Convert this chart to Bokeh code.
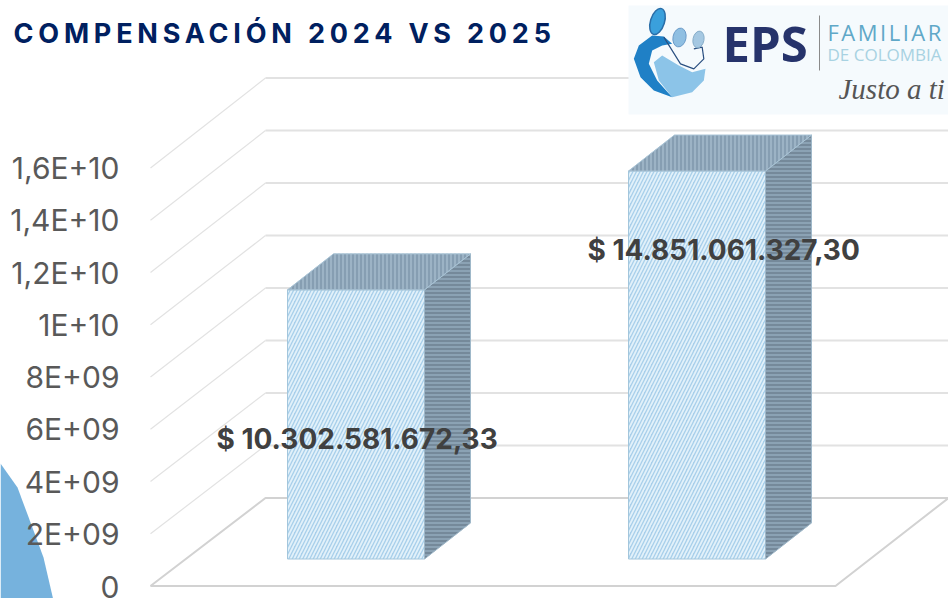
from bokeh.plotting import figure
from bokeh.embed import file_html
from bokeh.resources import INLINE
from bokeh.io import curdoc
from bokeh.models import FixedTicker, CustomJS
from bokeh.core.properties import value

# ---- data ----
categories = ["2024", "2025"]
series_values = [10302581672.33, 14851061327.30]
value_labels = ["$ 10.302.581.672,33", "$ 14.851.061.327,30"]
tick_values = [0, 2e9, 4e9, 6e9, 8e9, 1e10, 1.2e10, 1.4e10, 1.6e10]
tick_labels = ["0", "2E+09", "4E+09", "6E+09", "8E+09", "1E+10", "1,2E+10", "1,4E+10", "1,6E+10"]
title_text = "COMPENSACIÓN 2024 VS 2025"

# ---- scales: x in page pixels, y in value units ----
W, H = 948, 598
V_PER_PX = 2e9 / 52.25
ZERO_PY = 585.5
def vy(py):
    return (ZERO_PY - py) * V_PER_PX

p = figure(width=W, height=H, output_backend="svg", toolbar_location=None,
           x_range=(0, W), y_range=(vy(H), vy(0)),
           x_axis_type=None, min_border=0, outline_line_color=None)
p.xgrid.visible = False
p.ygrid.visible = False
p.background_fill_color = "white"
p.border_fill_color = "white"

# the axis would push the lowest label up from the page edge, so "0" is drawn as text below
ax = p.yaxis[0]
ax.ticker = FixedTicker(ticks=tick_values[1:])
ax.major_label_overrides = {t: s for t, s in zip(tick_values, tick_labels)}
ax.axis_line_color = None
ax.major_tick_line_color = None
ax.minor_tick_line_color = None
ax.major_tick_out = 0
ax.major_tick_in = 0
ax.minor_tick_out = 0
ax.minor_tick_in = 0
ax.major_label_text_font = "Inter"
ax.major_label_text_font_size = "30px"
ax.major_label_text_color = "#595959"
ax.major_label_standoff = -119

# ---- decorative blob, lower left ----
BLOB_X = [0, 0, 17, 33, 43, 53, 0]
BLOB_PY = [600, 463, 487, 530, 557, 600, 600]
p.patch(BLOB_X, [vy(q) for q in BLOB_PY], fill_color="#76b2dd", line_color=None)

# ---- 3D frame ----
WALL_LEFT, WALL_BACK, FLOOR_RIGHT, PAGE_RIGHT = 150, 265, 835, 960
WALL_DV = 88 * V_PER_PX
BACK_SCALE = 52.5 / 52.25
GRID = "#e2e2e2"
for t in tick_values[1:]:
    back = t * BACK_SCALE + WALL_DV
    p.line([WALL_LEFT, WALL_BACK], [t, back], line_color=GRID, line_width=1.2)
    p.line([WALL_BACK, PAGE_RIGHT], [back, back], line_color=GRID, line_width=2)
p.line([WALL_LEFT, WALL_BACK, PAGE_RIGHT], [0, WALL_DV, WALL_DV], line_color="#d2d2d2", line_width=2)
p.line([WALL_LEFT, FLOOR_RIGHT, 948], [0, 0, WALL_DV], line_color="#d2d2d2", line_width=2)

p.text([119], [vy(597.5)], text=[tick_labels[0]], text_font=value("Inter"), text_font_size="30px",
       text_color="#595959", text_align="right", text_baseline="bottom", text_line_height=1.0)

# ---- bars ----
BAR_LEFT = [287, 628]
BAR_W = 137
DEPTH_X = 46
DEPTH_V = 36 * V_PER_PX
BASE_V = 27 * V_PER_PX
for left, v in zip(BAR_LEFT, series_values):
    top = BASE_V + v
    r = left + BAR_W
    p.patch([left, r, r, left], [BASE_V, BASE_V, top, top], fill_color="#a8cfea",
            hatch_pattern="right_diagonal_line", hatch_color="#e2f1fa", hatch_scale=7, hatch_weight=1.8,
            line_color="#a3c6dc", line_width=1)
    p.patch([r, r + DEPTH_X, r + DEPTH_X, r], [BASE_V, BASE_V + DEPTH_V, top + DEPTH_V, top],
            fill_color="#75899a", hatch_pattern="horizontal_line", hatch_color="#93abbc",
            hatch_scale=4, hatch_weight=1.5, line_color="#9fb8c9", line_width=1)
    p.patch([left, r, r + DEPTH_X, left + DEPTH_X], [top, top, top + DEPTH_V, top + DEPTH_V],
            fill_color="#869eb2", hatch_pattern="vertical_line", hatch_color="#a3bacb",
            hatch_scale=4, hatch_weight=1.5, line_color="#a9c4d6", line_width=1)

# ---- value labels ----
LABEL_X = [216, 587]
LABEL_V = [vy(438), vy(249)]
p.text(LABEL_X, LABEL_V, text=value_labels, text_font=value("Inter"), text_font_style="bold",
       text_font_size="28px", text_color="#404040", text_align="left", text_baseline="middle")

# ---- title ----
p.text([13], [vy(33)], text=[title_text], text_font=value("Inter"), text_font_style="bold",
       text_font_size="27px", text_color="#002060", text_align="left", text_baseline="middle")

def lx(pts):
    return [620 + q[0] / 3 for q in pts]
def ly(pts):
    return [vy(q[1] / 3) for q in pts]

p.patch([628, 960, 960, 628], [vy(5), vy(5), vy(114), vy(114)], fill_color="#f5fafd", line_color=None)
BODY = [(100, 185), (125, 165), (175, 195), (215, 215), (255, 205), (250, 240), (215, 275), (155, 290), (115, 240)]
p.patch(lx(BODY), ly(BODY), fill_color="#8cc4e8", line_color=None)
CRESCENT = [(40, 175), (55, 135), (95, 105), (130, 108), (155, 130), (125, 135), (95, 150), (85, 190),
            (110, 240), (155, 290), (100, 270), (60, 230)]
p.patch(lx(CRESCENT), ly(CRESCENT), fill_color="#1f80c6", line_color=None)
CURVE = [(130, 110), (180, 190), (220, 205), (250, 175), (245, 140), (220, 145)]
p.line(lx(CURVE), ly(CURVE), line_color="#2a4f80", line_width=1.2)
p.ellipse([657], [vy(21)], width=14, height=27 * V_PER_PX, angle=-0.3, fill_color="#3aa0dc", line_color="#2a6ea8", line_width=1.5)
p.ellipse([679], [vy(37)], width=13, height=19 * V_PER_PX, angle=-0.2, fill_color="#8fbfe2", line_color="#6a9ac8", line_width=1)
p.ellipse([698], [vy(39)], width=11, height=17 * V_PER_PX, angle=-0.2, fill_color="#a5c8e2", line_color="#86adc9", line_width=1)
p.text([722], [vy(42)], text=["EPS"], text_font=value("Open Sans"), text_font_style="bold",
       text_font_size="49px", text_color="#26336b", text_baseline="middle")
p.line([819, 819], [vy(15), vy(70)], line_color="#8a8a8a", line_width=1)
p.text([827], [vy(31)], text=["FAMILIAR"], text_font=value("Open Sans"), text_font_size="22px",
       text_color="#5fa8c8", text_baseline="middle")
p.text([827], [vy(54)], text=["DE COLOMBIA"], text_font=value("Open Sans"), text_font_size="17px",
       text_color="#a8d2e2", text_baseline="middle")
p.text([838], [vy(88)], text=["Justo a ti"], text_font=value("Liberation Serif"), text_font_style="italic",
       text_font_size="29px", text_color="#555555", text_baseline="middle")

spacing = CustomJS(code="""
const want = {'COMPENSACIÓN 2024 VS 2025': '4.8px', 'FAMILIAR': '2.5px'};
function walk(root) {
  root.querySelectorAll('*').forEach(e => {
    if (e.tagName === 'text' && want[e.textContent]) e.style.letterSpacing = want[e.textContent];
    if (e.shadowRoot) walk(e.shadowRoot);
  });
}
let n = 0;
const t = setInterval(() => { walk(document); if (++n > 40) clearInterval(t); }, 50);
""")
doc = curdoc()
doc.add_root(p)
doc.js_on_event("document_ready", spacing)

open("out.html", "w").write(file_html(p, INLINE))
